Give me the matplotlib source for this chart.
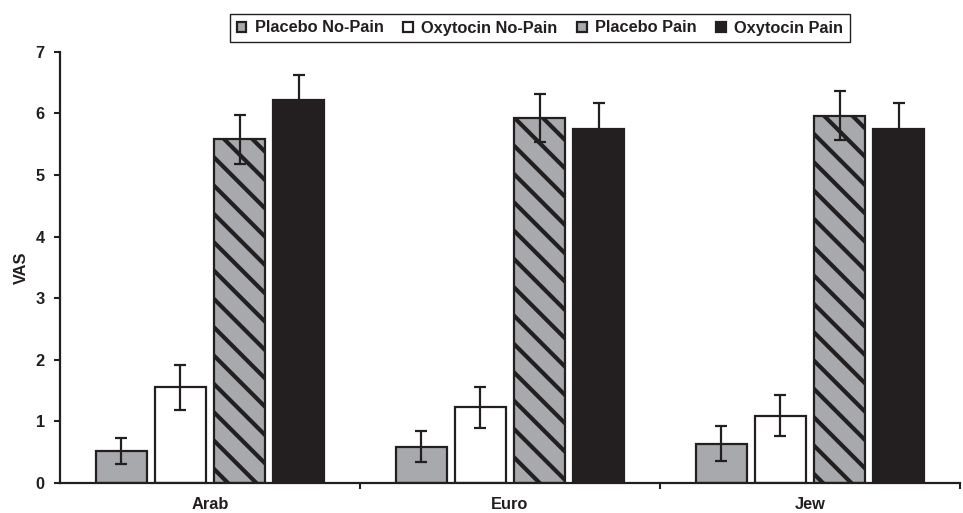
import matplotlib
matplotlib.use("Agg")
import matplotlib.pyplot as plt
import numpy as np

categories = ["Arab", "Euro", "Jew"]
series_names = ["Placebo No-Pain", "Oxytocin No-Pain", "Placebo Pain", "Oxytocin Pain"]
placebo_nopain = [0.52, 0.59, 0.64]
oxytocin_nopain = [1.55, 1.23, 1.09]
placebo_pain = [5.58, 5.93, 5.96]
oxytocin_pain = [6.21, 5.74, 5.74]
placebo_nopain_err = [0.21, 0.25, 0.285]
oxytocin_nopain_err = [0.37, 0.335, 0.335]
placebo_pain_err = [0.40, 0.39, 0.40]
oxytocin_pain_err = [0.41, 0.43, 0.43]
yticks = [0, 1, 2, 3, 4, 5, 6, 7]

DPI = 85
k = 100 / DPI  # point-size scale so sizes match a 100-dpi layout

plt.rcParams['font.family'] = ['Liberation Sans', 'DejaVu Sans']
plt.rcParams['font.weight'] = 'bold'
plt.rcParams['hatch.linewidth'] = 3.0 * k

dark = '#231f20'
gray = '#a7a9ac'
fs = 11.8 * k

fig = plt.figure(figsize=(963 / DPI, 513 / DPI), dpi=DPI)
ax = fig.add_axes([60/963, 30/513, 900/963, 431.3/513])

x = np.arange(len(categories))
step = 0.197
width = 0.17
values = [placebo_nopain, oxytocin_nopain, placebo_pain, oxytocin_pain]
errs = [placebo_nopain_err, oxytocin_nopain_err, placebo_pain_err, oxytocin_pain_err]
faces = [gray, 'white', gray, dark]
hatches = [None, None, '\\', None]

for i, (v, e, fc, h, name) in enumerate(zip(values, errs, faces, hatches, series_names)):
    ax.bar(x + (i - 1.5) * step, v, width, color=fc, edgecolor=dark, linewidth=1.6 * k,
           hatch=h, label=name, zorder=2,
           yerr=e, error_kw=dict(ecolor=dark, elinewidth=1.6 * k, capsize=4.5 * k,
                                 capthick=1.6 * k, zorder=3))

ax.set_xlim(-0.5, 2.5)
ax.set_ylim(0, 7)
ax.set_yticks(yticks)
ax.set_xticks(x)
ax.set_xticklabels(categories)
ax.set_xticks([0.5, 1.5, 2.5], minor=True)
ax.tick_params(axis='x', which='major', length=0, pad=10 * k, labelsize=fs, colors=dark)
ax.tick_params(axis='x', which='minor', length=4 * k, width=1.5 * k, direction='out', color=dark)
ax.tick_params(axis='y', length=4 * k, width=1.5 * k, direction='out', pad=7 * k,
               labelsize=fs, colors=dark)
for s in ['top', 'right']:
    ax.spines[s].set_visible(False)
for s in ['left', 'bottom']:
    ax.spines[s].set_linewidth(1.6 * k)
    ax.spines[s].set_color(dark)
ax.set_ylabel("VAS", fontsize=fs, fontweight='bold', color=dark, labelpad=5 * k)

leg = fig.legend(loc='center', bbox_to_anchor=(540/963, 1 - 28/513), ncol=4,
                 frameon=True, fancybox=False, edgecolor=dark, framealpha=1,
                 prop={'size': fs, 'weight': 'bold'}, handlelength=0.6, handleheight=0.6,
                 handletextpad=0.5, columnspacing=1.2, borderpad=0.4, borderaxespad=0)
leg.get_frame().set_linewidth(1.0 * k)
for t in leg.get_texts():
    t.set_color(dark)

fig.savefig("out.png", dpi=DPI)
